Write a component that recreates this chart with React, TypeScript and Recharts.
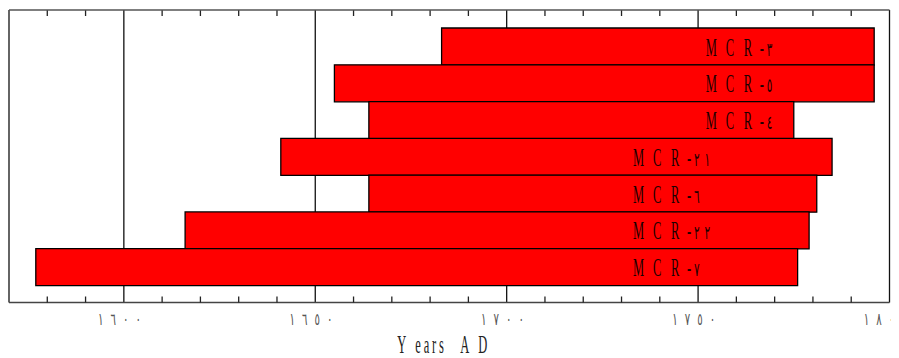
import React from 'react';
import { BarChart, Bar, XAxis, YAxis, CartesianGrid, LabelList, Label } from 'recharts';

const siteCodes = ['٣', '٥', '٤', '٢١', '٦', '٢٢', '٧'];
const startYears = [1683, 1655, 1664, 1641, 1664, 1616, 1577];
const endYears = [1796, 1796, 1775, 1785, 1781, 1779, 1776];
const labelYears = [1752, 1752, 1752, 1733, 1733, 1733, 1733];
const gridYears = [1570, 1600, 1650, 1700, 1750, 1800];
const minorYears = [1580, 1590, 1610, 1620, 1630, 1640, 1660, 1670, 1680, 1690, 1710, 1720, 1730, 1740, 1760, 1770, 1780, 1790];
const majorTicks = [1600, 1650, 1700, 1750, 1800];
const majorTickLabels = ['١٦٠٠', '١٦٥٠', '١٧٠٠', '١٧٥٠', '١٨٠٠'];
const xDomain = [1570, 1800];
const titleWords = ['Y', 'ears', 'A', 'D'];

const data = siteCodes.map((code, i) => ({ name: `MCR-${code}`, range: [startYears[i], endYears[i]] }));

// layout constants
const CHART_W = 891;
const CHART_H = 350;
const MARGIN = { top: 2, right: 9.5, left: 1, bottom: 5.5 };
const X_AXIS_H = 50;
const PLOT_H = CHART_H - MARGIN.top - MARGIN.bottom - X_AXIS_H;
const TICK_LEN = 6;

const SERIF = "'Liberation Serif', 'DejaVu Serif', serif";
const DIGITS = "'DejaVu Sans', sans-serif";

function Glyph({ x, y, ch, family = SERIF, size = 26, k = 0.48, fill = '#1a0000' }: any) {
  return (
    <text transform={`translate(${x},${y}) scale(${k},1)`} x={0} y={0} fontFamily={family} fontSize={size} fill={fill}>
      {ch}
    </text>
  );
}

const LABEL_OFFS = [0, 20, 38, 54];
const renderBarLabel = (props: any) => {
  const vb = props.viewBox || props;
  const x = vb.x ?? props.x;
  const y = vb.y ?? props.y;
  const width = vb.width ?? props.width;
  const height = vb.height ?? props.height;
  const i = props.index;
  if (i == null || x == null) return null;
  const s = startYears[i];
  const e = endYears[i];
  const px = x + ((labelYears[i] - s) * width) / (e - s);
  const by = y + height / 2 + 9;
  const latin = ['M', 'C', 'R', '-'];
  const digits = Array.from(siteCodes[i]);
  return (
    <g key={`lbl-${i}`}>
      {latin.map((ch, j) => (
        <Glyph key={j} x={px + LABEL_OFFS[j]} y={by} ch={ch} />
      ))}
      {digits.map((ch, j) => (
        <Glyph key={`d${j}`} x={px + 61 + j * 10.5} y={by} ch={ch} family={DIGITS} size={19} k={0.55} />
      ))}
    </g>
  );
};

const AxisTick = (props: any) => {
  const { x, y, payload } = props;
  const i = majorTicks.indexOf(payload.value);
  const chars = i >= 0 ? Array.from(majorTickLabels[i]) : [];
  return (
    <g>
      {chars.map((ch, j) => (
        <text
          key={j}
          transform={`translate(${x - 23 + j * 12.5},${y + 22}) scale(0.6,1)`}
          x={0}
          y={0}
          textAnchor="middle"
          fontFamily={DIGITS}
          fontSize={17}
          fill="#555"
        >
          {ch}
        </text>
      ))}
    </g>
  );
};

const TITLE_OFFS = [0, 18, 63, 81];
const renderAxisExtras = (props: any) => {
  const vb = props.viewBox || {};
  const toX = (v: number) => vb.x + ((v - xDomain[0]) / (xDomain[1] - xDomain[0])) * vb.width;
  const bottom = vb.y;
  const top = vb.y - PLOT_H;
  const x0 = vb.x + vb.width / 2 - 52;
  const y0 = vb.y + 50;
  return (
    <g>
      {minorYears.map((v) => (
        <g key={`mt-${v}`}>
          <path d={`M${toX(v)},${bottom}V${bottom - TICK_LEN}`} stroke="#222" strokeWidth={1.3} fill="none" />
          <path d={`M${toX(v)},${top}V${top + TICK_LEN}`} stroke="#222" strokeWidth={1.3} fill="none" />
        </g>
      ))}
      {titleWords.map((w, j) => (
        <text
          key={j}
          transform={`translate(${x0 + TITLE_OFFS[j]},${y0}) scale(0.48,1)`}
          x={0}
          y={0}
          fontFamily={SERIF}
          fontSize={26}
          letterSpacing={6}
          fill="#222"
        >
          {w}
        </text>
      ))}
    </g>
  );
};

export default function App() {
  return (
    <BarChart width={CHART_W} height={CHART_H} data={data} layout="vertical" barCategoryGap={0} margin={MARGIN}>
      <CartesianGrid horizontal={false} vertical={true} verticalValues={gridYears} stroke="#111" strokeWidth={1.3} />
      <XAxis
        xAxisId={0}
        type="number"
        orientation="bottom"
        domain={xDomain}
        ticks={majorTicks}
        allowDataOverflow
        height={X_AXIS_H}
        tickSize={0}
        tickMargin={0}
        tickLine={false}
        axisLine={{ stroke: '#444', strokeWidth: 1.3 }}
        tick={<AxisTick />}
        interval={0}
      >
        <Label content={renderAxisExtras} />
      </XAxis>
      <XAxis
        xAxisId="mt"
        type="number"
        orientation="top"
        mirror
        domain={xDomain}
        allowDataOverflow
        tick={false}
        tickLine={false}
        axisLine={{ stroke: '#555', strokeWidth: 1.3 }}
      />
      <YAxis type="category" dataKey="name" hide width={0} padding={{ top: 18, bottom: 17 }} />
      <Bar dataKey="range" fill="#ff0000" stroke="#000" strokeWidth={1.3} isAnimationActive={false}>
        <LabelList dataKey="range" content={renderBarLabel} />
      </Bar>
    </BarChart>
  );
}
